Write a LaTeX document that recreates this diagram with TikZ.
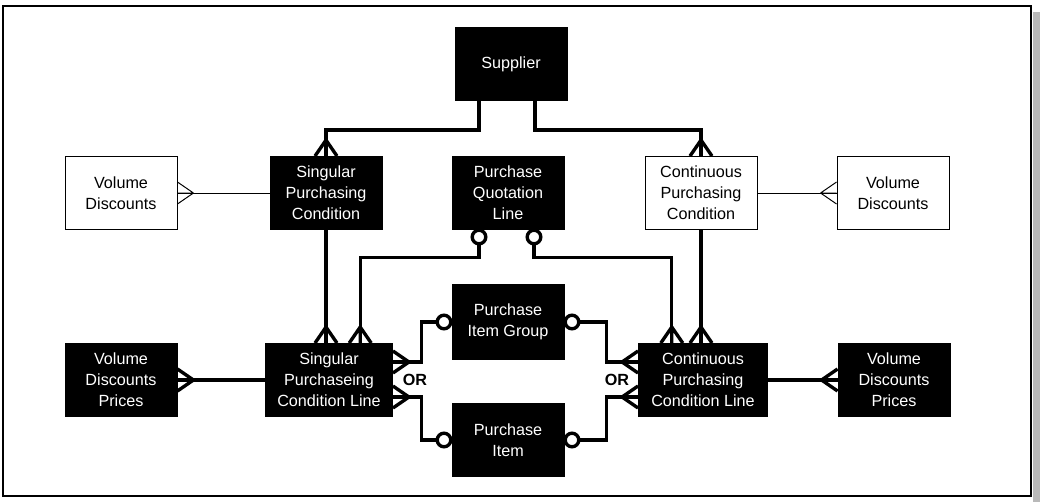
\documentclass[tikz,border=0pt]{standalone}
\usepackage{fontspec}
\setmainfont{Liberation Sans}
\usetikzlibrary{positioning}

\tikzset{
  entity/.style={draw, line width=0.6pt, fill=black, text=white, align=center,
    minimum width=2.8cm, minimum height=1.825cm, inner sep=1pt,
    font=\fontsize{11.5}{15}\selectfont},
  wentity/.style={entity, fill=white, text=black},
  link/.style={line width=2.4pt},
  thinlink/.style={line width=0.7pt},
  opt/.style={circle, draw, fill=white, line width=2.4pt, minimum size=0.34cm, inner sep=0pt},
  pics/crowfoot/.style={code={
    \draw[pic actions] (-16,0) -- (0,-11) (-16,0) -- (0,0) (-16,0) -- (0,11);}},
}

\begin{document}
\begin{tikzpicture}[x=0.025cm, y=-0.025cm]
  \useasboundingbox (0,0) rectangle (1040,502);
  \draw[line width=0.8pt] (3,6) rectangle (1031,496);
  \fill[gray!55] (1033,12) rectangle (1040,502);

  \node[entity, minimum width=2.8cm] (sup) at (511,64) {Supplier};
  \node[wentity] (vdl) at (121,193) {Volume\\Discounts};
  \node[entity] (spc) at (326,193) {Singular\\Purchasing\\Condition};
  \node[entity] (pql) at (508,193) {Purchase\\Quotation\\Line};
  \node[wentity] (cpc) at (701,193) {Continuous\\Purchasing\\Condition};
  \node[wentity] (vdr) at (893,193) {Volume\\Discounts};
  \node[entity] (vpl) at (121,380) {Volume\\Discounts\\Prices};
  \node[entity, minimum width=3.175cm] (spcl) at (329,380) {Singular\\Purchaseing\\Condition Line};
  \node[entity, minimum height=1.875cm] (pig) at (508,322) {Purchase\\Item Group};
  \node[entity] (pi) at (508,440) {Purchase\\Item};
  \node[entity, minimum width=3.225cm] (cpcl) at (703,380) {Continuous\\Purchasing\\Condition Line};
  \node[entity] (vpr) at (894,380) {Volume\\Discounts\\Prices};

  \node[font=\fontsize{11.5}{15}\selectfont\bfseries] (or1) at (415,380) {OR};
  \node[font=\fontsize{11.5}{15}\selectfont\bfseries] (or2) at (617,380) {OR};

  \node[opt] (q1) at (479,237) {};
  \node[opt] (q2) at (534,237) {};
  \node[opt] (g1) at (444,322) {};
  \node[opt] (g2) at (572,322) {};
  \node[opt] (i1) at (444,440) {};
  \node[opt] (i2) at (572,440) {};

  % supplier to both purchasing conditions
  \draw[link] ([xshift=-0.8cm]sup.south) -- ++(0,29) -| (spc.north);
  \draw[link] ([xshift=0.6cm]sup.south) -- ++(0,29) -| (cpc.north);
  \pic[link] at (spc.north) [rotate=-90] {crowfoot};
  \pic[link] at (cpc.north) [rotate=-90] {crowfoot};

  % volume discounts
  \draw[thinlink] (spc.west) -- (vdl.east);
  \draw[thinlink] (cpc.east) -- (vdr.west);
  \pic[thinlink] at (vdl.east) [rotate=180] {crowfoot};
  \pic[thinlink] at (vdr.west) {crowfoot};

  % condition lines
  \draw[link] (spc.south) -- (spc.south |- spcl.north);
  \draw[link] (cpc.south) -- (cpc.south |- cpcl.north);
  \draw[link] (q1.south) -- ++(0,12) -| ([xshift=0.78cm]spcl.north);
  \draw[link] (q2.south) -- ++(0,12) -| ([xshift=-0.78cm]cpcl.north);
  \pic[link] at (spc.south |- spcl.north) [rotate=-90] {crowfoot};
  \pic[link] at ([xshift=0.78cm]spcl.north) [rotate=-90] {crowfoot};
  \pic[link] at (cpc.south |- cpcl.north) [rotate=-90] {crowfoot};
  \pic[link] at ([xshift=-0.78cm]cpcl.north) [rotate=-90] {crowfoot};

  % item group or item
  \draw[link] (g1.west) -- ++(-14,0) |- ([yshift=0.45cm]spcl.east);
  \draw[link] (i1.west) -- ++(-14,0) |- ([yshift=-0.425cm]spcl.east);
  \draw[link] (g2.east) -- ++(26,0) |- ([yshift=0.45cm]cpcl.west);
  \draw[link] (i2.east) -- ++(26,0) |- ([yshift=-0.425cm]cpcl.west);
  \pic[link] at ([yshift=0.45cm]spcl.east) [rotate=180] {crowfoot};
  \pic[link] at ([yshift=-0.425cm]spcl.east) [rotate=180] {crowfoot};
  \pic[link] at ([yshift=0.45cm]cpcl.west) {crowfoot};
  \pic[link] at ([yshift=-0.425cm]cpcl.west) {crowfoot};

  % prices
  \draw[link] (vpl.east) -- (spcl.west);
  \draw[link] (cpcl.east) -- (vpr.west);
  \pic[link] at (vpl.east) [rotate=180] {crowfoot};
  \pic[link] at (vpr.west) {crowfoot};
\end{tikzpicture}
\end{document}
